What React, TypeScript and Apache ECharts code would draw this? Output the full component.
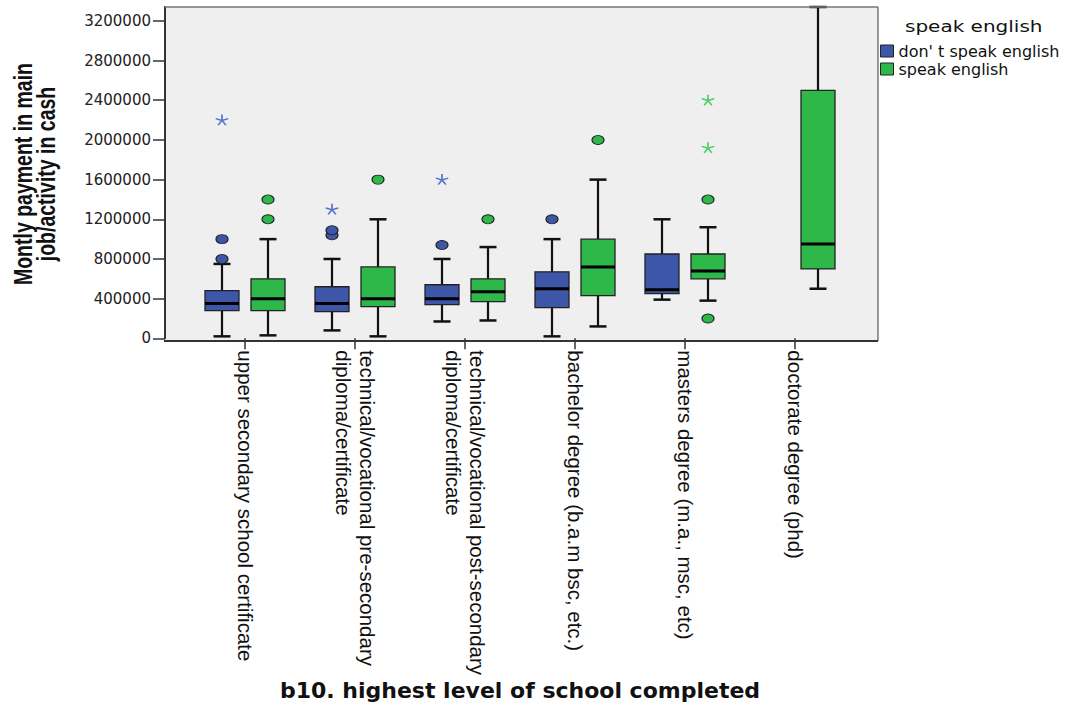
import React, { useEffect, useRef } from "react";
import * as echarts from "echarts";

const categories = [
  "upper secondary school certificate",
  "technical/vocational pre-secondary\ndiploma/certificate",
  "technical/vocational post-secondary\ndiploma/certificate",
  "bachelor degree (b.a.m bsc, etc.)",
  "masters degree (m.a., msc, etc)",
  "doctorate degree (phd)",
];
const groupNames = ["don' t speak english", "speak english"];
const yTicks = [0, 400000, 800000, 1200000, 1600000, 2000000, 2400000, 2800000, 3200000];
const yMax = 3340000;

// [lower whisker, Q1, median, Q3, upper whisker]
const dontSpeakBoxes = [
  [20000, 280000, 350000, 480000, 750000],
  [80000, 270000, 350000, 520000, 800000],
  [170000, 340000, 400000, 540000, 800000],
  [20000, 310000, 500000, 670000, 1000000],
  [390000, 450000, 490000, 850000, 1200000],
];
const speakBoxes = [
  [30000, 280000, 400000, 600000, 1000000],
  [20000, 320000, 400000, 720000, 1200000],
  [180000, 370000, 470000, 600000, 920000],
  [120000, 430000, 720000, 1000000, 1600000],
  [380000, 600000, 680000, 850000, 1120000],
  [500000, 700000, 950000, 2500000, 3340000],
];
// [category index, value]
const dontSpeakOutliers = [
  [0, 800000], [0, 1000000], [1, 1040000], [1, 1090000], [2, 940000], [3, 1200000],
];
const dontSpeakExtremes = [
  [0, 2200000], [1, 1300000], [2, 1600000],
];
const speakOutliers = [
  [0, 1200000], [0, 1400000], [1, 1600000], [2, 1200000], [3, 2000000], [4, 1400000], [4, 200000],
];
const speakExtremes = [
  [4, 1920000], [4, 2400000],
];

const BLUE = "#3d56a8";
const GREEN = "#2eb84a";
const BLUE_STAR = "#5a74cb";
const GREEN_STAR = "#4ed160";
const OFFSET = 23;

function asteriskPath(): string {
  const r = 10;
  const w = 1.3;
  let d = "";
  for (let k = 0; k < 5; k++) {
    const a = (k * 72 * Math.PI) / 180;
    const dx = Math.sin(a);
    const dy = -Math.cos(a);
    const nx = -dy * w;
    const ny = dx * w;
    const tx = dx * r;
    const ty = dy * r;
    d +=
      `M${nx.toFixed(2)},${ny.toFixed(2)}` +
      `L${(tx + nx).toFixed(2)},${(ty + ny).toFixed(2)}` +
      `L${(tx - nx).toFixed(2)},${(ty - ny).toFixed(2)}` +
      `L${(-nx).toFixed(2)},${(-ny).toFixed(2)}Z`;
  }
  return "path://" + d;
}

function makeBoxRenderer(offset: number, color: string) {
  return (_params: any, api: any) => {
    const cat = api.value(0);
    const p = (v: number) => api.coord([cat, v]);
    const x = p(api.value(3))[0] + offset;
    const yLow = p(api.value(1))[1];
    const yQ1 = p(api.value(2))[1];
    const yMed = p(api.value(3))[1];
    const yQ3 = p(api.value(4))[1];
    const yHigh = p(api.value(5))[1];
    const half = 17;
    const cap = 8.5;
    const ws = { stroke: "#111", lineWidth: 2.2 };
    return {
      type: "group",
      children: [
        { type: "line", shape: { x1: x, y1: yHigh, x2: x, y2: yQ3 }, style: ws },
        { type: "line", shape: { x1: x, y1: yQ1, x2: x, y2: yLow }, style: ws },
        { type: "line", shape: { x1: x - cap, y1: yHigh, x2: x + cap, y2: yHigh }, style: { stroke: "#111", lineWidth: 2.5 } },
        { type: "line", shape: { x1: x - cap, y1: yLow, x2: x + cap, y2: yLow }, style: { stroke: "#111", lineWidth: 2.5 } },
        {
          type: "rect",
          shape: { x: x - half, y: yQ3, width: half * 2, height: yQ1 - yQ3 },
          style: { fill: color, stroke: "#222", lineWidth: 1.3 },
        },
        { type: "line", shape: { x1: x - half, y1: yMed, x2: x + half, y2: yMed }, style: { stroke: "#000", lineWidth: 3 } },
      ],
    };
  };
}

export default function App() {
  const ref = useRef<HTMLDivElement>(null);
  useEffect(() => {
    if (!ref.current) return;
    const chart = echarts.init(ref.current, undefined, { renderer: "svg" });
    const star = asteriskPath();
    const option: any = {
      animation: false,
      backgroundColor: "#ffffff",
      grid: { left: 190, width: 660, top: 7, height: 334 },
      xAxis: {
        type: "category",
        data: categories,
        boundaryGap: true,
        axisLine: { show: false },
        axisTick: { show: true, alignWithLabel: true, length: 11, lineStyle: { color: "#333", width: 1.5 } },
        axisLabel: {
          interval: 0,
          rotate: -90,
          margin: 12,
          fontFamily: "'Liberation Sans', Arial, sans-serif",
          fontSize: 20.5,
          lineHeight: 24,
          color: "#111",
        },
        splitLine: { show: false },
        name: "b10. highest level of school completed",
        nameLocation: "middle",
        nameGap: 337,
        nameTextStyle: {
          fontFamily: "'DejaVu Sans', sans-serif",
          fontWeight: "bold",
          fontSize: 22,
          color: "#111",
        },
      },
      yAxis: {
        type: "value",
        min: 0,
        max: yMax,
        offset: 25,
        axisLine: { show: true, lineStyle: { color: "#333", width: 2 } },
        axisTick: { show: true, length: 12, customValues: yTicks, lineStyle: { color: "#333", width: 1.5 } },
        axisLabel: {
          customValues: yTicks,
          formatter: (v: number) => String(v),
          margin: 14,
          fontFamily: "'DejaVu Sans', sans-serif",
          fontSize: 15,
          color: "#222",
        },
        splitLine: { show: false },
      },
      legend: {
        orient: "vertical",
        left: 880,
        top: 42,
        padding: 0,
        itemGap: 0,
        itemWidth: 13,
        itemHeight: 12,
        selectedMode: false,
        textStyle: { fontFamily: "'DejaVu Sans', sans-serif", fontSize: 16, color: "#111", lineHeight: 18 },
        data: [
          { name: groupNames[0], icon: "rect", itemStyle: { color: BLUE, borderColor: "#222", borderWidth: 1 } },
          { name: groupNames[1], icon: "rect", itemStyle: { color: GREEN, borderColor: "#222", borderWidth: 1 } },
        ],
      },
      graphic: [
        {
          type: "rect",
          z: -1,
          shape: { x: 165, y: 7, width: 713, height: 334 },
          style: { fill: "#efefef" },
          silent: true,
        },
        { type: "line", z: 10, shape: { x1: 165, y1: 7, x2: 878, y2: 7 }, style: { stroke: "#777", lineWidth: 1.5 }, silent: true },
        { type: "line", z: 10, shape: { x1: 878, y1: 7, x2: 878, y2: 341 }, style: { stroke: "#777", lineWidth: 1.5 }, silent: true },
        { type: "line", z: 10, shape: { x1: 164, y1: 341, x2: 878, y2: 341 }, style: { stroke: "#333", lineWidth: 2 }, silent: true },
        {
          type: "text",
          x: 905,
          y: 26,
          scaleX: 1.25,
          style: {
            text: "speak english",
            fontFamily: "'DejaVu Sans', sans-serif",
            fontSize: 16,
            fill: "#111",
            verticalAlign: "middle",
            align: "left",
          },
        },
        {
          type: "text",
          x: 35,
          y: 174,
          rotation: Math.PI / 2,
          scaleY: 1.3,
          style: {
            text: "Montly payment in main\njob/activity in cash",
            fontFamily: "'Liberation Sans', Arial, sans-serif",
            fontWeight: "bold",
            fontSize: 19.5,
            lineHeight: 18,
            fill: "#111",
            align: "center",
            verticalAlign: "middle",
          },
        },
      ],
      series: [
        {
          name: groupNames[0],
          type: "custom",
          renderItem: makeBoxRenderer(-OFFSET, BLUE),
          itemStyle: { color: BLUE },
          encode: { x: 0, y: [1, 2, 3, 4, 5] },
          data: dontSpeakBoxes.map((b, i) => [i, ...b]),
          z: 3,
        },
        {
          name: groupNames[1],
          type: "custom",
          renderItem: makeBoxRenderer(OFFSET, GREEN),
          itemStyle: { color: GREEN },
          encode: { x: 0, y: [1, 2, 3, 4, 5] },
          data: speakBoxes.map((b, i) => [i, ...b]),
          z: 3,
        },
        {
          name: groupNames[0],
          type: "scatter",
          data: dontSpeakOutliers,
          symbol: "circle",
          symbolSize: [12, 9],
          symbolOffset: [-OFFSET, 0],
          itemStyle: { color: BLUE, borderColor: "#222", borderWidth: 1, opacity: 1 },
          z: 4,
        },
        {
          name: groupNames[1],
          type: "scatter",
          data: speakOutliers,
          symbol: "circle",
          symbolSize: [12, 9],
          symbolOffset: [OFFSET, 0],
          itemStyle: { color: GREEN, borderColor: "#222", borderWidth: 1, opacity: 1 },
          z: 4,
        },
        {
          name: groupNames[0],
          type: "scatter",
          data: dontSpeakExtremes,
          symbol: star,
          symbolSize: [13, 11],
          symbolOffset: [-OFFSET, 0],
          itemStyle: { color: BLUE_STAR, opacity: 1 },
          z: 4,
        },
        {
          name: groupNames[1],
          type: "scatter",
          data: speakExtremes,
          symbol: star,
          symbolSize: [13, 11],
          symbolOffset: [OFFSET, 0],
          itemStyle: { color: GREEN_STAR, opacity: 1 },
          z: 4,
        },
      ],
    };
    chart.setOption(option);
    return () => chart.dispose();
  }, []);
  return (
    <div
      ref={ref}
      style={{ position: "fixed", left: 0, top: 0, width: 1074, height: 702, background: "#fff" }}
    />
  );
}
